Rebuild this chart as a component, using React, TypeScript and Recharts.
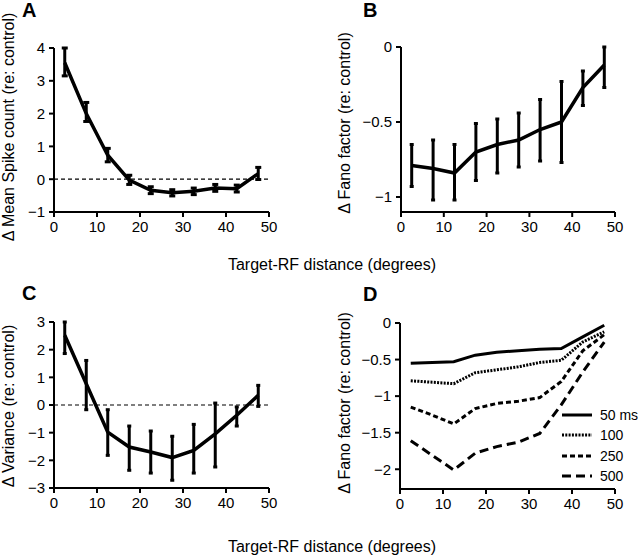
import React from 'react';
import {
  LineChart, Line, XAxis, YAxis, ErrorBar, ReferenceLine, Legend,
} from 'recharts';

// distance bins (degrees)
const distances = [2.5, 7.5, 12.5, 17.5, 22.5, 27.5, 32.5, 37.5, 42.5, 47.5];
const xTicks = [0, 10, 20, 30, 40, 50];

// A: change in mean spike count
const spikeMean = [3.55, 2.0, 0.73, -0.03, -0.34, -0.41, -0.37, -0.27, -0.29, 0.17];
const spikeLow = [3.15, 1.76, 0.53, -0.16, -0.44, -0.51, -0.47, -0.37, -0.39, -0.01];
const spikeHigh = [4.0, 2.34, 0.94, 0.12, -0.23, -0.32, -0.27, -0.16, -0.18, 0.36];
const spikeTicks = [-1, 0, 1, 2, 3, 4];

// B: change in Fano factor
const fanoMean = [-0.79, -0.81, -0.84, -0.7, -0.65, -0.62, -0.55, -0.5, -0.27, -0.12];
const fanoLow = [-0.93, -1.02, -1.02, -0.89, -0.84, -0.8, -0.76, -0.77, -0.39, -0.27];
const fanoHigh = [-0.65, -0.62, -0.65, -0.51, -0.48, -0.44, -0.35, -0.23, -0.16, 0.0];
const fanoTicks = [-1, -0.5, 0];

// C: change in variance
const varMean = [2.52, 0.77, -0.98, -1.52, -1.7, -1.9, -1.64, -1.04, -0.37, 0.35];
const varLow = [1.86, -0.17, -1.82, -2.36, -2.46, -2.72, -2.46, -2.24, -0.76, -0.05];
const varHigh = [3.0, 1.61, -0.17, -0.76, -0.94, -1.13, -0.7, 0.07, -0.07, 0.71];
const varTicks = [-3, -2, -1, 0, 1, 2, 3];

// D: Fano factor by counting window
const fano50 = [-0.55, -0.54, -0.53, -0.44, -0.4, -0.38, -0.36, -0.35, -0.19, -0.03];
const fano100 = [-0.79, -0.81, -0.83, -0.68, -0.64, -0.6, -0.54, -0.51, -0.26, -0.12];
const fano250 = [-1.15, -1.26, -1.38, -1.17, -1.1, -1.07, -1.02, -0.8, -0.38, -0.16];
const fano500 = [-1.61, -1.81, -2.01, -1.78, -1.69, -1.63, -1.51, -1.12, -0.67, -0.26];
const windowTicks = [-2, -1.5, -1, -0.5, 0];

const windowSeries = [
  { key: 'w50', name: '50 ms', dash: undefined, values: fano50 },
  { key: 'w100', name: '100', dash: '2 1.3', values: fano100 },
  { key: 'w250', name: '250', dash: '5 3', values: fano250 },
  { key: 'w500', name: '500', dash: '9 5', values: fano500 },
];

const FONT = '"Liberation Sans", Arial, Helvetica, sans-serif';
const minus = (v: number) => String(v).replace('-', '\u2212');

const withErr = (mean: number[], low: number[], high: number[]) =>
  distances.map((x, i) => ({ x, v: mean[i], err: [mean[i] - low[i], high[i] - mean[i]] }));

const spikeData = withErr(spikeMean, spikeLow, spikeHigh);
const fanoData = withErr(fanoMean, fanoLow, fanoHigh);
const varData = withErr(varMean, varLow, varHigh);
const windowData = distances.map((x, i) => {
  const row: any = { x };
  windowSeries.forEach(s => { row[s.key] = s.values[i]; });
  return row;
});

const axisLine = { stroke: '#000', strokeWidth: 2 };
const tickLine = { stroke: '#000', strokeWidth: 2 };
const tickStyle = { fill: '#000', fontSize: 15, fontFamily: FONT };

const xAxis = (h: number) => (
  <XAxis type="number" dataKey="x" domain={[0, 50]} ticks={xTicks} height={h}
    axisLine={axisLine} tickLine={tickLine} tick={tickStyle} tickSize={5} tickMargin={4}
    interval={0} />
);

const yAxis = (w: number, domain: number[], ticks: number[]) => (
  <YAxis type="number" domain={domain} ticks={ticks} width={w} allowDataOverflow
    axisLine={axisLine} tickLine={tickLine} tick={tickStyle} tickSize={5} tickMargin={4}
    tickFormatter={minus} interval={0} />
);

const WindowLegend = () => (
  <div style={{ fontFamily: FONT, fontSize: 14, color: '#000' }}>
    {windowSeries.map(s => (
      <div key={s.key} style={{ display: 'flex', alignItems: 'center', height: 20.3 }}>
        <svg width={30} height={8} style={{ display: 'block' }}>
          <line x1={0} y1={4} x2={30} y2={4} stroke="#000" strokeWidth={3} strokeDasharray={s.dash} />
        </svg>
        <span style={{ marginLeft: 8, lineHeight: '16px', whiteSpace: 'nowrap' }}>{s.name}</span>
      </div>
    ))}
  </div>
);

const Text = ({ x, y, children, size = 16, bold = false, rotate = false }: any) => (
  <div style={{
    position: 'absolute', left: x, top: y, fontSize: size, fontWeight: bold ? 'bold' : 'normal',
    fontFamily: FONT, whiteSpace: 'nowrap', lineHeight: 1, color: '#000',
    transform: rotate ? 'translate(-50%, -50%) rotate(-90deg)' : (bold ? 'none' : 'translate(-50%, -50%)'),
  }}>{children}</div>
);

export default function App() {
  return (
    <div style={{ position: 'absolute', left: 0, top: 0, width: 640, height: 560, background: '#fff', fontFamily: FONT, overflow: 'hidden' }}>
      <div style={{ position: 'absolute', left: 0, top: 0 }}>
        <LineChart width={290} height={250} data={spikeData} margin={{ top: 48, right: 21, left: 0, bottom: 0 }}>
          {xAxis(38)}
          {yAxis(54, [-1, 4], spikeTicks)}
          <ReferenceLine y={0} stroke="#000" strokeWidth={1.2} strokeDasharray="4 3" />
          <Line type="linear" dataKey="v" stroke="#000" strokeWidth={3.5} dot={false} isAnimationActive={false}>
            <ErrorBar dataKey="err" direction="y" width={3} stroke="#000" strokeWidth={3} />
          </Line>
        </LineChart>
      </div>

      <div style={{ position: 'absolute', left: 320, top: 0 }}>
        <LineChart width={320} height={250} data={fanoData} margin={{ top: 47, right: 25, left: 0, bottom: 0 }}>
          {xAxis(38)}
          {yAxis(81, [-1.1, 0], fanoTicks)}
          <Line type="linear" dataKey="v" stroke="#000" strokeWidth={3.5} dot={false} isAnimationActive={false}>
            <ErrorBar dataKey="err" direction="y" width={2} stroke="#000" strokeWidth={3} />
          </Line>
        </LineChart>
      </div>

      <div style={{ position: 'absolute', left: 0, top: 280 }}>
        <LineChart width={290} height={250} data={varData} margin={{ top: 42, right: 21, left: 0, bottom: 0 }}>
          {xAxis(42)}
          {yAxis(54, [-3, 3], varTicks)}
          <ReferenceLine y={0} stroke="#000" strokeWidth={1.2} strokeDasharray="4 3" />
          <Line type="linear" dataKey="v" stroke="#000" strokeWidth={3.5} dot={false} isAnimationActive={false}>
            <ErrorBar dataKey="err" direction="y" width={2} stroke="#000" strokeWidth={3} />
          </Line>
        </LineChart>
      </div>

      <div style={{ position: 'absolute', left: 320, top: 280 }}>
        <LineChart width={320} height={250} data={windowData} margin={{ top: 43, right: 25, left: 0, bottom: 0 }}>
          {xAxis(41)}
          {yAxis(80, [-2.27, 0], windowTicks)}
          {windowSeries.map(s => (
            <Line key={s.key} type="linear" dataKey={s.key} name={s.name} stroke="#000" strokeWidth={3}
              strokeDasharray={s.dash} dot={false} isAnimationActive={false} />
          ))}
          <Legend layout="vertical" align="center" verticalAlign="middle" content={<WindowLegend />}
            wrapperStyle={{ left: 242, top: 125, width: 78, height: 82 }} />
        </LineChart>
      </div>

      <Text x={22} y={0} size={20} bold>A</Text>
      <Text x={363} y={0} size={20} bold>B</Text>
      <Text x={22} y={283} size={20} bold>C</Text>
      <Text x={363} y={284} size={20} bold>D</Text>

      <Text x={9} y={127} rotate>{'\u0394 Mean Spike count (re: control)'}</Text>
      <Text x={345} y={123} rotate>{'\u0394 Fano factor (re: control)'}</Text>
      <Text x={9} y={406} rotate>{'\u0394 Variance (re: control)'}</Text>
      <Text x={345} y={403} rotate>{'\u0394 Fano factor (re: control)'}</Text>

      <Text x={332} y={265}>Target-RF distance (degrees)</Text>
      <Text x={332} y={547}>Target-RF distance (degrees)</Text>
    </div>
  );
}
